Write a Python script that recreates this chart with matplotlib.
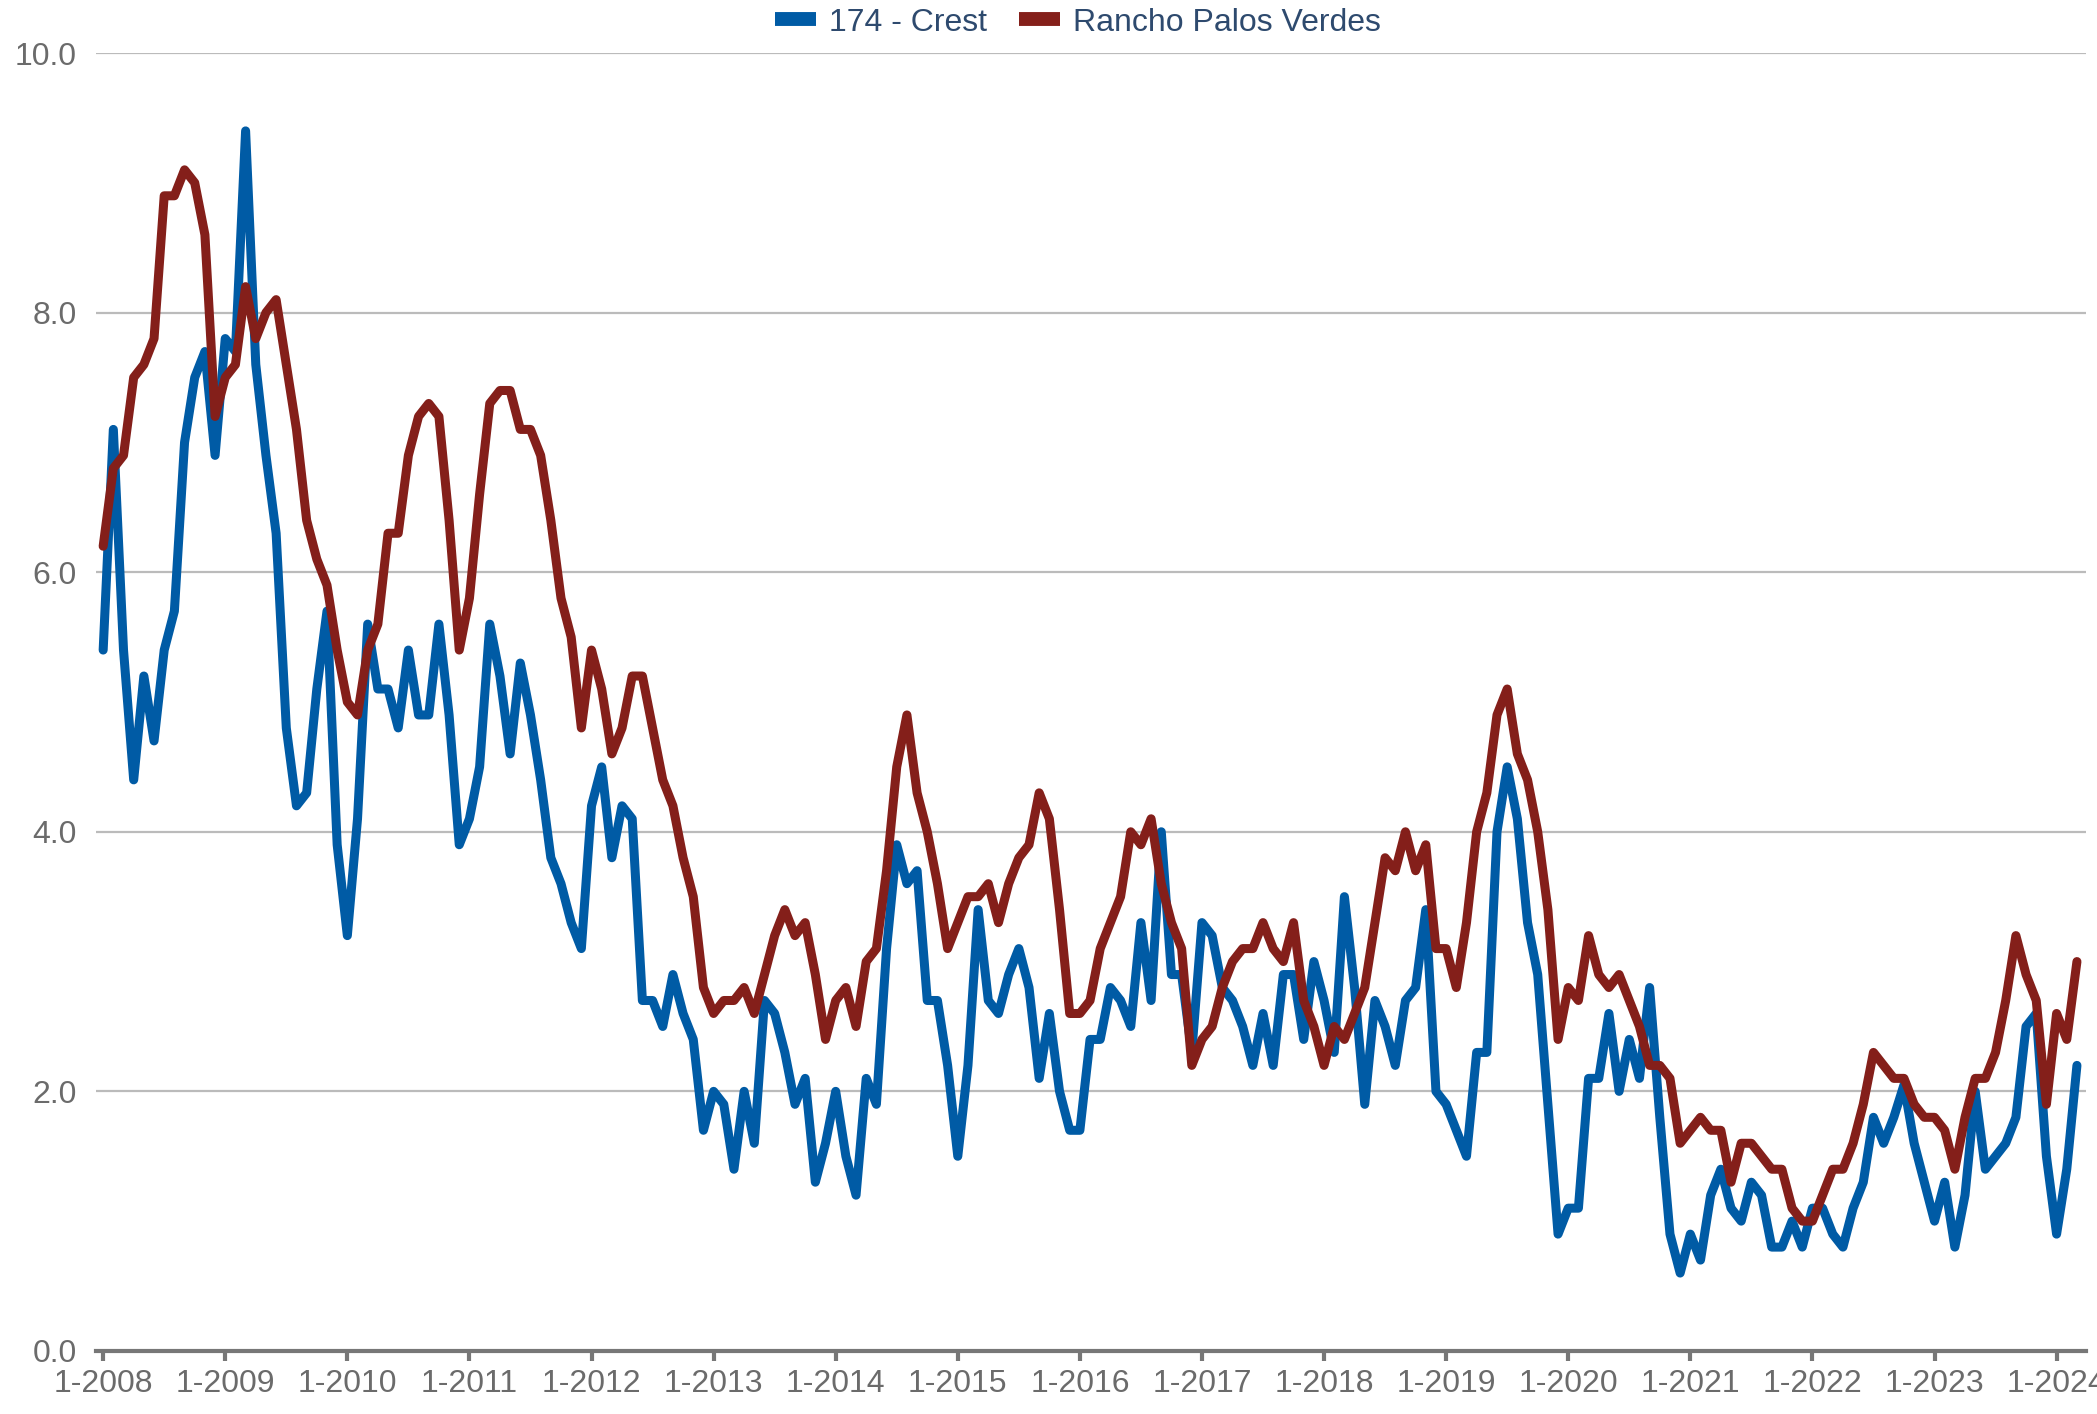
import numpy as np
import matplotlib
matplotlib.use("Agg")
import matplotlib.pyplot as plt
from matplotlib.lines import Line2D

plt.rcParams['font.family'] = ['Liberation Sans', 'DejaVu Sans']

# monthly values, 1-2008 .. 3-2024
crest = [
    5.4, 7.1, 5.4, 4.4, 5.2, 4.7, 5.4, 5.7, 7.0, 7.5, 7.7, 6.9,   # 2008
    7.8, 7.7, 9.4, 7.6, 6.9, 6.3, 4.8, 4.2, 4.3, 5.1, 5.7, 3.9,   # 2009
    3.2, 4.1, 5.6, 5.1, 5.1, 4.8, 5.4, 4.9, 4.9, 5.6, 4.9, 3.9,   # 2010
    4.1, 4.5, 5.6, 5.2, 4.6, 5.3, 4.9, 4.4, 3.8, 3.6, 3.3, 3.1,   # 2011
    4.2, 4.5, 3.8, 4.2, 4.1, 2.7, 2.7, 2.5, 2.9, 2.6, 2.4, 1.7,   # 2012
    2.0, 1.9, 1.4, 2.0, 1.6, 2.7, 2.6, 2.3, 1.9, 2.1, 1.3, 1.6,   # 2013
    2.0, 1.5, 1.2, 2.1, 1.9, 3.1, 3.9, 3.6, 3.7, 2.7, 2.7, 2.2,   # 2014
    1.5, 2.2, 3.4, 2.7, 2.6, 2.9, 3.1, 2.8, 2.1, 2.6, 2.0, 1.7,   # 2015
    1.7, 2.4, 2.4, 2.8, 2.7, 2.5, 3.3, 2.7, 4.0, 2.9, 2.9, 2.3,   # 2016
    3.3, 3.2, 2.8, 2.7, 2.5, 2.2, 2.6, 2.2, 2.9, 2.9, 2.4, 3.0,   # 2017
    2.7, 2.3, 3.5, 2.8, 1.9, 2.7, 2.5, 2.2, 2.7, 2.8, 3.4, 2.0,   # 2018
    1.9, 1.7, 1.5, 2.3, 2.3, 4.0, 4.5, 4.1, 3.3, 2.9, 1.9, 0.9,   # 2019
    1.1, 1.1, 2.1, 2.1, 2.6, 2.0, 2.4, 2.1, 2.8, 1.8, 0.9, 0.6,   # 2020
    0.9, 0.7, 1.2, 1.4, 1.1, 1.0, 1.3, 1.2, 0.8, 0.8, 1.0, 0.8,   # 2021
    1.1, 1.1, 0.9, 0.8, 1.1, 1.3, 1.8, 1.6, 1.8, 2.05, 1.6, 1.3,  # 2022
    1.0, 1.3, 0.8, 1.2, 2.0, 1.4, 1.5, 1.6, 1.8, 2.5, 2.6, 1.5,   # 2023
    0.9, 1.4, 2.2,                                                # 2024
]

rancho = [
    6.2, 6.8, 6.9, 7.5, 7.6, 7.8, 8.9, 8.9, 9.1, 9.0, 8.6, 7.2,   # 2008
    7.5, 7.6, 8.2, 7.8, 8.0, 8.1, 7.6, 7.1, 6.4, 6.1, 5.9, 5.4,   # 2009
    5.0, 4.9, 5.4, 5.6, 6.3, 6.3, 6.9, 7.2, 7.3, 7.2, 6.4, 5.4,   # 2010
    5.8, 6.6, 7.3, 7.4, 7.4, 7.1, 7.1, 6.9, 6.4, 5.8, 5.5, 4.8,   # 2011
    5.4, 5.1, 4.6, 4.8, 5.2, 5.2, 4.8, 4.4, 4.2, 3.8, 3.5, 2.8,   # 2012
    2.6, 2.7, 2.7, 2.8, 2.6, 2.9, 3.2, 3.4, 3.2, 3.3, 2.9, 2.4,   # 2013
    2.7, 2.8, 2.5, 3.0, 3.1, 3.7, 4.5, 4.9, 4.3, 4.0, 3.6, 3.1,   # 2014
    3.3, 3.5, 3.5, 3.6, 3.3, 3.6, 3.8, 3.9, 4.3, 4.1, 3.4, 2.6,   # 2015
    2.6, 2.7, 3.1, 3.3, 3.5, 4.0, 3.9, 4.1, 3.6, 3.3, 3.1, 2.2,   # 2016
    2.4, 2.5, 2.8, 3.0, 3.1, 3.1, 3.3, 3.1, 3.0, 3.3, 2.7, 2.5,   # 2017
    2.2, 2.5, 2.4, 2.6, 2.8, 3.3, 3.8, 3.7, 4.0, 3.7, 3.9, 3.1,   # 2018
    3.1, 2.8, 3.3, 4.0, 4.3, 4.9, 5.1, 4.6, 4.4, 4.0, 3.4, 2.4,   # 2019
    2.8, 2.7, 3.2, 2.9, 2.8, 2.9, 2.7, 2.5, 2.2, 2.2, 2.1, 1.6,   # 2020
    1.7, 1.8, 1.7, 1.7, 1.3, 1.6, 1.6, 1.5, 1.4, 1.4, 1.1, 1.0,   # 2021
    1.0, 1.2, 1.4, 1.4, 1.6, 1.9, 2.3, 2.2, 2.1, 2.1, 1.9, 1.8,   # 2022
    1.8, 1.7, 1.4, 1.8, 2.1, 2.1, 2.3, 2.7, 3.2, 2.9, 2.7, 1.9,   # 2023
    2.6, 2.4, 3.0,                                                # 2024
]

year_labels = ["1-2008", "1-2009", "1-2010", "1-2011", "1-2012", "1-2013",
               "1-2014", "1-2015", "1-2016", "1-2017", "1-2018", "1-2019",
               "1-2020", "1-2021", "1-2022", "1-2023", "1-2024"]
y_ticks = [0, 2, 4, 6, 8, 10]

blue = "#005BA5"
red = "#841F1A"
gray_text = "#6B6B6B"

fig = plt.figure(figsize=(20.97, 14.14), dpi=100)
ax = fig.add_axes([0.0458, 0.0446, 0.949, 0.9179])

months = np.arange(len(crest))
ax.plot(months, crest, color=blue, lw=6.5, solid_joinstyle="round", solid_capstyle="round", zorder=3)
ax.plot(months, rancho, color=red, lw=6.5, solid_joinstyle="round", solid_capstyle="round", zorder=4)

ax.set_xlim(-0.7, 194.9)
ax.set_ylim(0, 10)

ax.set_yticks(y_ticks)
ax.set_yticklabels([f"{v:.1f}" for v in y_ticks])
ax.yaxis.grid(True, color="#BBBBBB", lw=1.6)
ax.set_axisbelow(True)

ax.set_xticks(np.arange(len(year_labels)) * 12)
ax.set_xticklabels(year_labels)

for s in ["top", "right", "left"]:
    ax.spines[s].set_visible(False)
ax.spines["bottom"].set_color("#777777")
ax.spines["bottom"].set_linewidth(3)
ax.spines["bottom"].set_zorder(5)

ax.tick_params(axis="y", length=0, pad=14, labelsize=23, labelcolor=gray_text)
ax.tick_params(axis="x", length=7, width=3, color="#777777", pad=6,
               labelsize=23, labelcolor=gray_text)

handles = [Line2D([0], [0], color=blue, lw=10, solid_capstyle="butt"),
           Line2D([0], [0], color=red, lw=10, solid_capstyle="butt")]
leg = fig.legend(handles, ["174 - Crest", "Rancho Palos Verdes"], loc="center",
                 bbox_to_anchor=(0.514, 0.984), ncol=2, frameon=False,
                 fontsize=23, handlelength=1.3, handletextpad=0.4, columnspacing=1.0)
for t in leg.get_texts():
    t.set_color("#2E4A6E")

fig.savefig("out.png", dpi=100)
